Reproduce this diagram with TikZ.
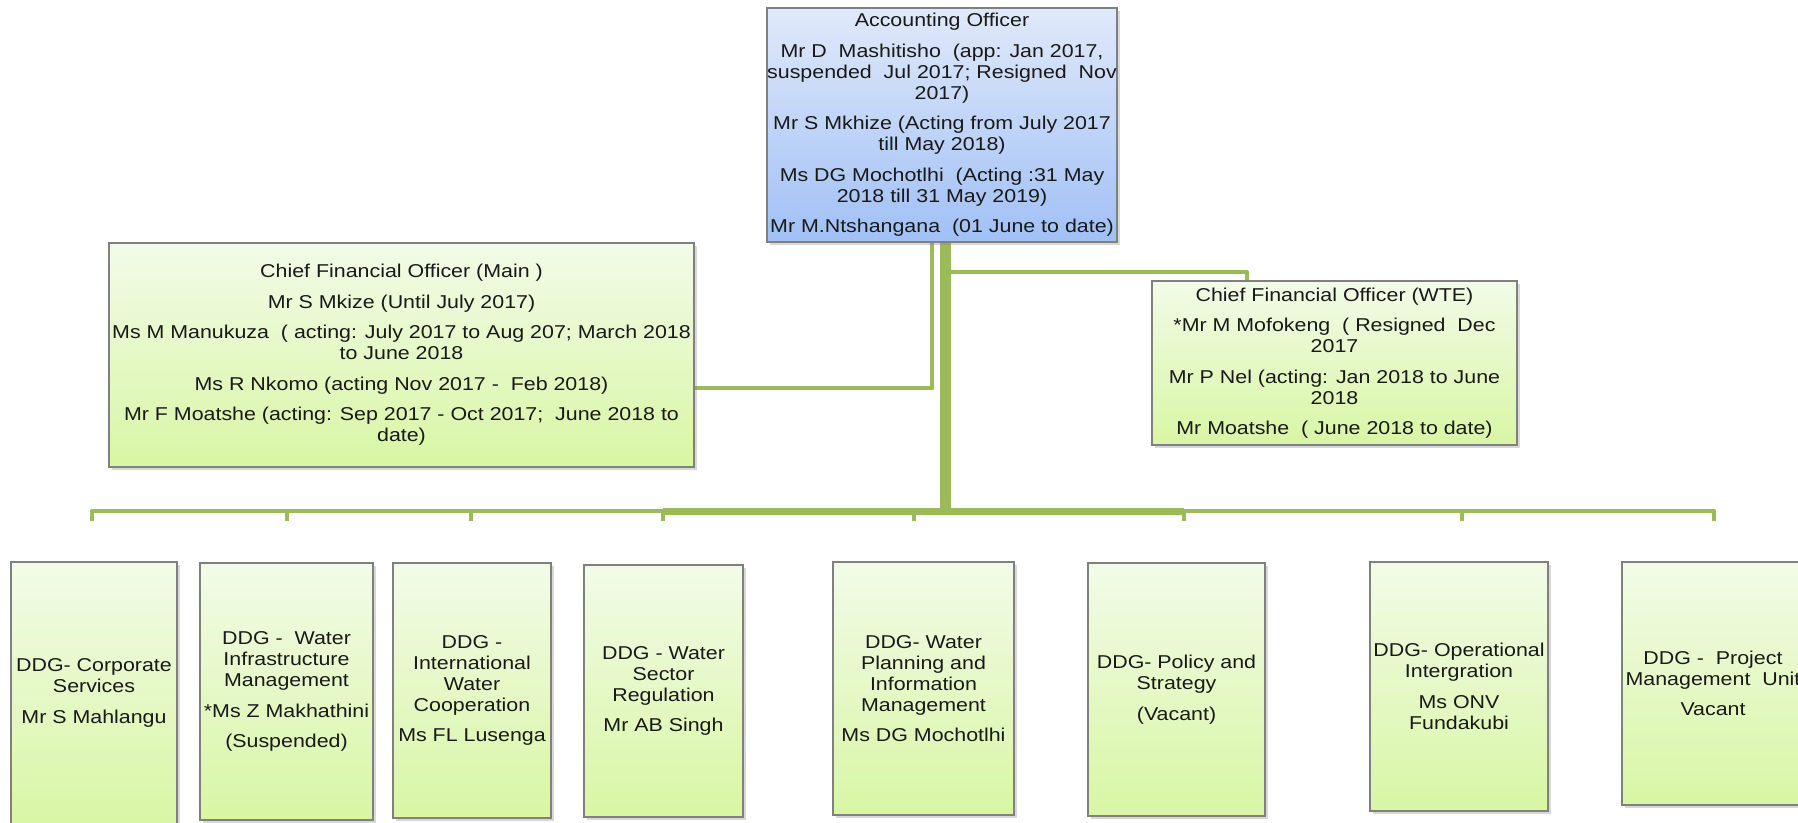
\documentclass[tikz,border=0pt]{standalone}
\usepackage{fontspec}
\setmainfont[FakeStretch=1.15]{Liberation Sans}
\usetikzlibrary{shadows}
\definecolor{lnk}{RGB}{155,187,89}
\definecolor{gtop}{RGB}{242,251,232}
\definecolor{gbot}{RGB}{216,246,164}
\definecolor{btop}{RGB}{224,233,250}
\definecolor{bbot}{RGB}{160,192,245}
\definecolor{bord}{RGB}{128,128,128}
\definecolor{txt}{RGB}{25,25,25}
\pgfdeclarelayer{bg}
\pgfsetlayers{bg,main}
\begin{document}
\begin{tikzpicture}[x=1pt,y=-1pt,
  every node/.style={font=\fontsize{18.6}{21}\selectfont, text=txt},
  box/.style={draw=bord, line width=1.3pt, inner sep=0pt, align=center,
    drop shadow={opacity=0.3, shadow xshift=2.5pt, shadow yshift=-2.5pt}},
  gbox/.style={box, top color=gtop, bottom color=gbot},
  bbox/.style={box, top color=btop, bottom color=bbot},
  link/.style={draw=lnk, line width=4.5pt, line join=round},
  thicklink/.style={link, line width=7pt},
  trunk/.style={draw=lnk, line width=11pt}]
\useasboundingbox (0,0) rectangle (1798,822);

% top
\node[bbox, minimum width=350pt, minimum height=234pt] (ao) at (942,125)
 {Accounting Officer\\[9.5pt]
  Mr D\ \ Mashitisho\ \ (app: Jan 2017,\\
  suspended\ \ Jul 2017; Resigned\ \ Nov\\
  2017)\\[9.5pt]
  Mr S Mkhize (Acting from July 2017\\
  till May 2018)\\[9.5pt]
  Ms DG Mochotlhi\ \ (Acting :31 May\\
  2018 till 31 May 2019)\\[9.5pt]
  Mr M.Ntshangana\ \ (01 June to date)};

% CFOs
\node[gbox, minimum width=585pt, minimum height=224pt] (cfo1) at (401.5,355)
 {Chief Financial Officer (Main )\\[9.5pt]
  Mr S Mkize (Until July 2017)\\[9.5pt]
  Ms M Manukuza\ \ ( acting: July 2017 to Aug 207; March 2018\\
  to June 2018\\[9.5pt]
  Ms R Nkomo (acting Nov 2017 -\ \ Feb 2018)\\[9.5pt]
  Mr F Moatshe (acting: Sep 2017 - Oct 2017;\ \ June 2018 to\\
  date)};

\node[gbox, minimum width=365pt, minimum height=164pt] (cfo2) at (1334.5,363)
 {Chief Financial Officer (WTE)\\[9.5pt]
  *Mr M Mofokeng\ \ ( Resigned\ \ Dec\\
  2017\\[9.5pt]
  Mr P Nel (acting: Jan 2018 to June\\
  2018\\[9.5pt]
  Mr Moatshe\ \ ( June 2018 to date)};

% DDGs
\node[gbox, minimum width=166pt, minimum height=262pt] (d1) at (94,693)
 {DDG- Corporate\\ Services\\[9.5pt] Mr S Mahlangu};
\node[gbox, minimum width=173pt, minimum height=257pt] (d2) at (286.5,691.5)
 {DDG -\ \ Water\\ Infrastructure\\ Management\\[9.5pt] *Ms Z Makhathini\\[9.5pt] (Suspended)};
\node[gbox, minimum width=158pt, minimum height=255pt] (d3) at (472,690.5)
 {DDG -\\ International\\ Water\\ Cooperation\\[9.5pt] Ms FL Lusenga};
\node[gbox, minimum width=159pt, minimum height=252pt] (d4) at (663.5,691)
 {DDG - Water\\ Sector\\ Regulation\\[9.5pt] Mr AB Singh};
\node[gbox, minimum width=181pt, minimum height=253pt] (d5) at (923.5,688.5)
 {DDG- Water\\ Planning and\\ Information\\ Management\\[9.5pt] Ms DG Mochotlhi};
\node[gbox, minimum width=177pt, minimum height=253pt] (d6) at (1176.5,689.5)
 {DDG- Policy and\\ Strategy\\[9.5pt] (Vacant)};
\node[gbox, minimum width=178pt, minimum height=249pt] (d7) at (1459,686.5)
 {DDG- Operational\\ Intergration\\[9.5pt] Ms ONV\\ Fundakubi};
\node[gbox, minimum width=182pt, minimum height=243pt] (d8) at (1713,683.5)
 {DDG -\ \ Project\\ Management\ \ Unit\\[9.5pt] Vacant};

% connector points
\coordinate (bus) at (945,511);
\coordinate (lc) at (932,388);
\coordinate (rc) at (1247,272);
\coordinate (t1) at (92,521);
\coordinate (t2) at (287,521);
\coordinate (t3) at (471,521);
\coordinate (t4) at (663,521);
\coordinate (t5) at (914,521);
\coordinate (t6) at (1184,521);
\coordinate (t7) at (1462,521);
\coordinate (t8) at (1714,521);

\begin{pgfonlayer}{bg}
\fill[white] (0,0) rectangle (1798,822);
\draw[link] (ao.south -| lc) -- (lc) -- (cfo1.east |- lc);
\draw[link] (bus |- rc) -- (rc) -- (cfo2.north -| rc);
\draw[link] (bus) -| (t1);
\draw[link] (bus) -| (t2);
\draw[link] (bus) -| (t3);
\draw[link] (bus) -| (t4);
\draw[link] (bus) -| (t5);
\draw[link] (bus) -| (t6);
\draw[link] (bus) -| (t7);
\draw[link] (bus) -| (t8);
\draw[thicklink, line cap=butt] (bus -| t4) -- (bus -| t6);
\draw[trunk] (ao.south -| bus) -- ([yshift=-3pt]bus);
\end{pgfonlayer}
\end{tikzpicture}
\end{document}
